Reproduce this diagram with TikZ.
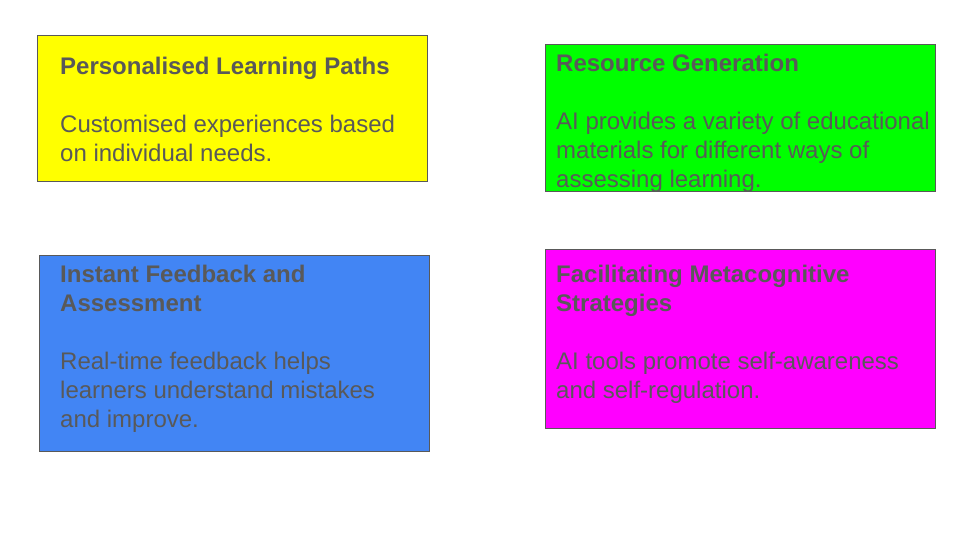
\documentclass[tikz,border=0pt]{standalone}
\usepackage{fontspec}
\setmainfont{Liberation Sans}
\usepackage{tikz}
\usetikzlibrary{positioning}

\definecolor{textgray}{HTML}{595959}
\definecolor{cardyellow}{HTML}{FFFF00}
\definecolor{cardgreen}{HTML}{00FF00}
\definecolor{cardblue}{HTML}{4285F4}
\definecolor{cardmagenta}{HTML}{FF00FF}

\begin{document}
\begin{tikzpicture}
    [x=1pt, y=1pt,
    card/.style 2 args={
        draw=black!65,
        line width=0.8pt,
        fill=#1,
        anchor=north west,
        inner sep=0pt,
        minimum width=390pt,
        minimum height=#2
    },
    card/.default={white}{146pt},
    card text/.style={
        anchor=north west,
        align=left,
        inner sep=0pt,
        text=textgray,
        font=\fontsize{24}{29}\selectfont
    }]

    %%% frame
    \useasboundingbox (0,0) rectangle (960,-540);

    %%% boxes
    \node (paths) [card={cardyellow}{146pt}] at (37,-35) {};
    \node (resources) [card={cardgreen}{147pt}] at (545,-44) {};
    \node (feedback) [card={cardblue}{196pt}] at (39,-255) {};
    \node (metacog) [card={cardmagenta}{179pt}] at (545,-249) {};

    %%% texts (strut fixes the first baseline 20.3pt below the top)
    \node (paths text) [card text] at (60,-53.7)
        {\strut\textbf{Personalised Learning Paths}\\[29pt]
         Customised experiences based\\
         on individual needs.};
    \node (resources text) [card text] at (556,-50.7)
        {\strut\textbf{Resource Generation}\\[29pt]
         AI provides a variety of educational\\
         materials for different ways of\\
         assessing learning.};
    \node (feedback text) [card text] at (60,-261.7)
        {\strut\textbf{Instant Feedback and}\\
         \textbf{Assessment}\\[29pt]
         Real-time feedback helps\\
         learners understand mistakes\\
         and improve.};
    \node (metacog text) [card text] at (556,-261.7)
        {\strut\textbf{Facilitating Metacognitive}\\
         \textbf{Strategies}\\[29pt]
         AI tools promote self-awareness\\
         and self-regulation.};
\end{tikzpicture}
\end{document}
